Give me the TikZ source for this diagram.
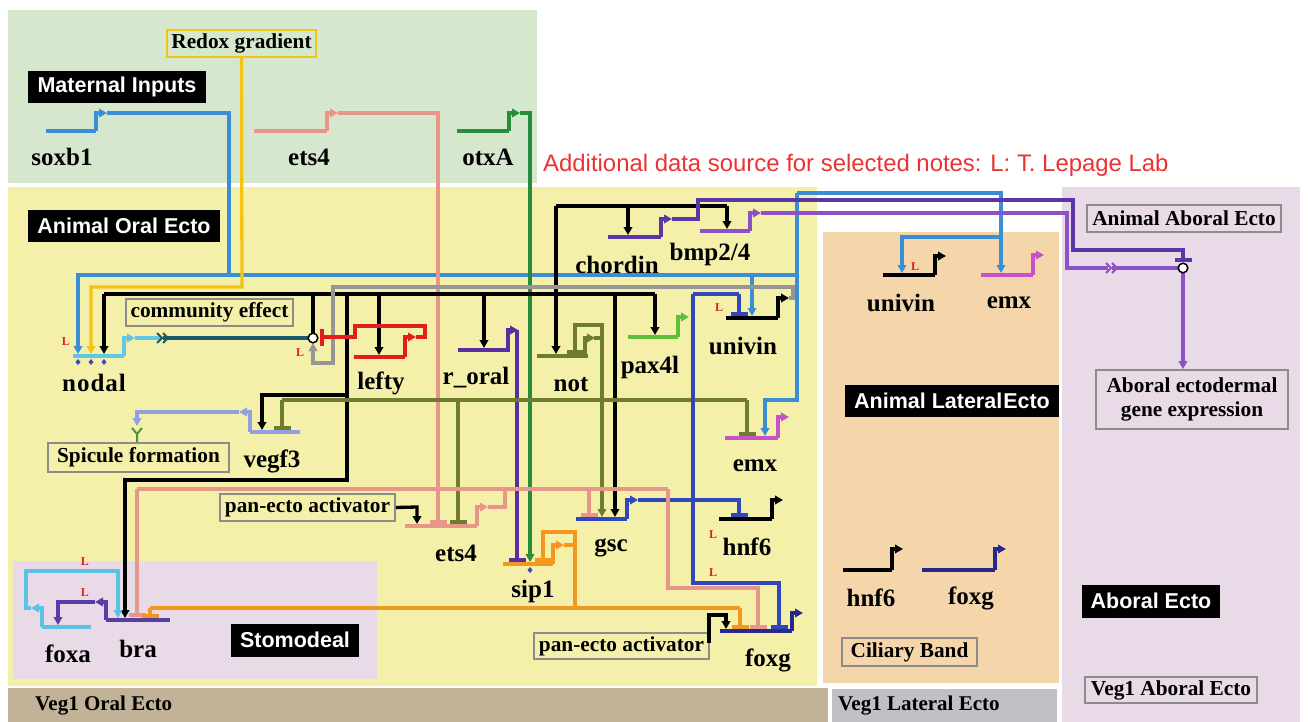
\documentclass[tikz,border=0pt]{standalone}
\usepackage{fontspec}
\setmainfont{Liberation Serif}
\setsansfont{Liberation Sans}
\usetikzlibrary{arrows.meta}
\definecolor{bgGreen}{RGB}{213,232,206}
\definecolor{bgYellow}{RGB}{244,240,170}
\definecolor{bgPeach}{RGB}{245,214,170}
\definecolor{bgPink}{RGB}{232,218,230}
\definecolor{bgTan}{RGB}{193,178,152}
\definecolor{bgGray}{RGB}{192,193,198}
\definecolor{boxGray}{RGB}{140,140,140}
\definecolor{cBlue}{RGB}{58,142,214}
\definecolor{cYellow}{RGB}{245,195,20}
\definecolor{cSalmon}{RGB}{232,150,138}
\definecolor{cGreen}{RGB}{40,140,60}
\definecolor{cCyan}{RGB}{95,200,230}
\definecolor{cTeal}{RGB}{25,90,105}
\definecolor{cRed}{RGB}{225,30,30}
\definecolor{cGray}{RGB}{150,150,150}
\definecolor{cPurple}{RGB}{90,45,160}
\definecolor{cDPurple}{RGB}{90,55,165}
\definecolor{cLPurple}{RGB}{140,80,200}
\definecolor{cOlive}{RGB}{110,125,45}
\definecolor{cPax}{RGB}{95,190,60}
\definecolor{cMagenta}{RGB}{200,80,200}
\definecolor{cLav}{RGB}{145,160,225}
\definecolor{cOrange}{RGB}{245,150,30}
\definecolor{cMBlue}{RGB}{50,70,190}
\definecolor{cNavy}{RGB}{40,40,140}
\definecolor{cCyanB}{RGB}{90,195,228}
\definecolor{cBra}{RGB}{90,60,165}
\definecolor{cDot}{RGB}{60,70,190}
\definecolor{cRedText}{RGB}{235,50,50}
\tikzset{
  ln/.style={line width=3.3pt},
  gl/.style={line width=4.6pt},
  act/.style={-{Triangle[length=8pt,width=8.5pt]}},
  rep/.style={-{Bar[width=17pt,line width=4pt]}},
  genelabel/.style={font=\fontsize{25}{25}\selectfont\bfseries,inner sep=0pt},
  blackbox/.style={fill=black,text=white,font=\sffamily\bfseries\fontsize{21.5}{21.5}\selectfont,inner sep=0pt},
  graybox/.style={draw=boxGray,line width=1.8pt,font=\fontsize{21.3}{24}\selectfont\bfseries,inner sep=0pt},
  plainlabel/.style={font=\fontsize{21}{21}\selectfont\bfseries,inner sep=0pt,anchor=west},
  lmark/.style={text=cRed,font=\fontsize{12}{12}\selectfont\bfseries,inner sep=0pt},
  junction/.style={draw=black,line width=1.5pt,fill=white}
}
\newcommand\genefwd[5]{%
  \draw[#1,gl] (#2,#4) -- (#3,#4);
  \draw[#1,ln,act] (#3,#4) -- (#3,#5) -- ++(11,0);
}
\newcommand\generev[5]{%
  \draw[#1,gl] (#2,#4) -- (#3,#4);
  \draw[#1,ln,act] (#2,#4) -- (#2,#5) -- ++(-11,0);
}
\begin{document}
\begin{tikzpicture}[x=1pt,y=-1pt]
\useasboundingbox (0,0) rectangle (1308,722);
\fill[white] (0,0) rectangle (1308,722);
% regions
\fill[bgGreen] (8,10) rectangle (537,183);
\fill[bgYellow] (8,187) rectangle (817,686);
\fill[bgPeach] (823,232) rectangle (1059,683);
\fill[bgPink] (1062,187) rectangle (1300,722);
\fill[bgPink] (13,561) rectangle (377,679);
\fill[bgTan] (8,688) rectangle (828,722);
\fill[bgGray] (832,689) rectangle (1057,722);

% region titles
\node[blackbox,minimum width=178pt,minimum height=32pt] (tMat) at (117,87) {Maternal Inputs};
\node[blackbox,minimum width=192pt,minimum height=32pt] (tOral) at (124,226) {Animal Oral Ecto};
\node[blackbox,minimum width=214pt,minimum height=32pt] (tLat) at (952,401) {Animal Lateral{\kern1pt}Ecto};
\node[blackbox,minimum width=128pt,minimum height=33pt] (tStom) at (295,640) {Stomodeal};
\node[blackbox,minimum width=138pt,minimum height=33pt] (tAbo) at (1151,601) {Aboral Ecto};
\node[graybox,minimum width=194pt,minimum height=27pt] (tAAE) at (1184,218.5) {Animal Aboral Ecto};
\node[graybox,minimum width=192pt,minimum height=59pt,align=center] (tAEG) at (1192,399.5) {Aboral ectodermal\\gene expression};
\node[graybox,minimum width=135pt,minimum height=28pt] (tCil) at (909.5,652) {Ciliary Band};
\node[graybox,minimum width=172pt,minimum height=26pt] (tVAE) at (1171,690) {Veg1 Aboral Ecto};
\node[graybox,minimum width=167pt,minimum height=27pt] (tCom) at (209.5,312.5) {community effect};
\node[graybox,minimum width=181pt,minimum height=29pt] (tSpi) at (138.5,457.5) {Spicule formation};
\node[graybox,minimum width=175pt,minimum height=27pt] (tPan1) at (307.5,507.5) {pan-ecto activator};
\node[graybox,minimum width=175pt,minimum height=26pt] (tPan2) at (621.5,646) {pan-ecto activator};
\node[graybox,draw=cYellow,minimum width=149pt,minimum height=27pt] (tRedox) at (241.5,43.5) {Redox gradient};
\node[plainlabel] (tVOE) at (35,706) {Veg1 Oral Ecto};
\node[plainlabel] (tVLE) at (838,706) {Veg1 Lateral Ecto};
\node[text=cRedText,font=\sffamily\fontsize{23.9}{24}\selectfont,inner sep=0pt,anchor=west] (tNote) at (543,165) {Additional data source for selected notes: L: T. Lepage Lab};

% ---------- connectors ----------
% soxb1 output (blue)
\draw[cBlue,ln] (107,113) -- (229,113) -- (229,275);
\draw[cBlue,ln,act] (797,275) -- (78,275) -- (78,354);
\draw[cBlue,ln,act] (752,275) -- (752,316);
\draw[cBlue,ln,act] (797,193) -- (797,400) -- (765,400) -- (765,436);
\draw[cBlue,ln,act] (797,193) -- (1001,193) -- (1001,273);
\draw[cBlue,ln,act] (1001,237) -- (902,237) -- (902,273);
% redox gradient (yellow)
\draw[cYellow,ln,act] (tRedox.south) -- (242,287) -- (91,287) -- (91,354);
% ets4 maternal (salmon)
\draw[cSalmon,ln,rep] (338,113) -- (438,113) -- (438,524);
% otxA (green)
\draw[cGreen,ln,act] (520,113) -- (530,113) -- (530,562);
% black network
\draw[black,ln] (104,294) -- (655,294);
\draw[black,ln,act] (104,294) -- (104,354);
\draw[black,ln] (313,294) -- (313,333.5);
\draw[black,ln,act] (347,294) -- (347,480) -- (125,480) -- (125,618);
\draw[black,ln,act] (347,395) -- (262,395) -- (262,430);
\draw[black,ln,act] (379,294) -- (379,355);
\draw[black,ln,act] (484,294) -- (484,348);
\draw[black,ln,act] (615,294) -- (615,517);
\draw[black,ln,act] (655,294) -- (655,335);
\draw[black,ln] (556,206) -- (727,206);
\draw[black,ln,act] (556,206) -- (556,354);
\draw[black,ln,act] (628,206) -- (628,235);
\draw[black,ln,act] (727,206) -- (727,229);
\draw[black,ln,act] (tPan1.east) -- (417,507) -- (417,524);
\draw[black,ln,act] (709,643) -- (709,615) -- (726,615) -- (726,629);
% univin (oral) output, gray
\draw[cGray,ln,act] (789,298) -- (793,298) -- (793,287) -- (333,287) -- (333,363) -- (313,363) -- (313,343);
% nodal output -> community effect
\draw[cCyan,ln] (135,338) -- (160,338);
\draw[cTeal,ln] (163,338) -- (309,338);
\draw[cTeal,line width=1.8pt] (157,333) -- (162,338) -- (157,343) (163,333) -- (168,338) -- (163,343);
% lefty output (red)
\draw[cRed,ln,rep] (416,337) -- (425,337) -- (425,326) -- (355,326) -- (355,337) -- (320,337);
% r_oral output (purple)
\draw[cPurple,ln,rep] (517,330) -- (517,562);
% not output (olive)
\draw[cOlive,ln] (594,338) -- (602,338);
\draw[cOlive,ln,rep] (602,338) -- (602,325) -- (575,325) -- (575,354);
\draw[cOlive,ln,act] (602,325) -- (602,517);
\draw[cOlive,ln] (282,400) -- (747,400);
\draw[cOlive,ln,rep] (282,400) -- (282,430);
\draw[cOlive,ln,rep] (458,400) -- (458,524);
\draw[cOlive,ln,rep] (747,400) -- (747,436);
% chordin output (dark purple)
\draw[cDPurple,ln,rep] (672,219) -- (698,219) -- (698,200) -- (1073,200) -- (1073,250) -- (1183,250) -- (1183,262);
% bmp2/4 output (light purple)
\draw[cLPurple,ln] (761,213) -- (1067,213) -- (1067,268) -- (1108,268);
\draw[cLPurple,line width=1.8pt] (1106,263) -- (1111,268) -- (1106,273) (1112,263) -- (1117,268) -- (1112,273);
\draw[cLPurple,ln] (1112,268) -- (1178.5,268);
\draw[cLPurple,ln,act] (1183,272.5) -- (tAEG.north -| 1183,0);
% gsc / dark-blue network
\draw[cMBlue,ln,rep] (638,500) -- (739,500) -- (739,517);
\draw[cMBlue,ln] (693,294) -- (739,294);
\draw[cMBlue,ln,rep] (739,294) -- (739,316);
\draw[cMBlue,ln,rep] (693,294) -- (693,583) -- (779,583) -- (779,629);
% vegf3 output
\draw[cLav,ln,act] (239,412) -- (137,412) -- (137,426);
\draw[cPax!80!black,line width=2pt] (132,428) -- (137,434) -- (142,428) (137,434) -- (tSpi.north -| 137,0);
% ets4 oral output (salmon)
\draw[cSalmon,ln] (488,507) -- (505,507) -- (505,489);
\draw[cSalmon,ln] (137,489) -- (668,489);
\draw[cSalmon,ln,rep] (137,489) -- (137,617);
\draw[cSalmon,ln,rep] (589,489) -- (589,517);
\draw[cSalmon,ln,rep] (668,489) -- (668,588) -- (758,588) -- (758,629);
% sip1 output (orange)
\draw[cOrange,ln] (564,545) -- (575,545);
\draw[cOrange,ln,rep] (575,545) -- (575,532) -- (543,532) -- (543,562);
\draw[cOrange,ln] (575,532) -- (575,608);
\draw[cOrange,ln] (150,608) -- (740,608);
\draw[cOrange,ln,rep] (150,608) -- (150,618);
\draw[cOrange,ln,rep] (740,608) -- (740,629);
% foxa output -> bra
\draw[cCyanB,ln,act] (31,608) -- (26,608) -- (26,571) -- (118,571) -- (118,618);
% bra output -> foxa
\draw[cBra,ln,act] (95,602) -- (58,602) -- (58,625);

% ---------- genes ----------
\genefwd{cBlue}{46}{96}{131}{113}
\genefwd{cSalmon}{254}{327}{131}{113}
\genefwd{cGreen}{457}{509}{131}{113}
\genefwd{cCyan}{73}{124}{356}{338}
\genefwd{cRed}{354}{405}{357}{337}
\draw[cPurple,gl] (458,350) -- (510,350);
\draw[cPurple,ln,act] (508,350) -- (508,330) -- (518,330);
\draw[cOlive,gl] (537,356) -- (588,356);
\draw[cOlive,ln,act] (585,356) -- (585,338) -- (595,338);
\genefwd{cPax}{628}{678}{337}{317}
\genefwd{cDPurple}{608}{661}{237}{219}
\genefwd{cLPurple}{700}{750}{231}{213}
\genefwd{black}{726}{778}{318}{298}
\genefwd{cMagenta}{725}{778}{438}{417}
\generev{cLav}{250}{300}{432}{412}
\genefwd{cSalmon}{405}{477}{526}{507}
\genefwd{cOrange}{503}{553}{564}{545}
\genefwd{cMBlue}{576}{627}{519}{500}
\genefwd{black}{719}{772}{519}{500}
\genefwd{cNavy}{720}{792}{631}{613}
\generev{cCyanB}{42}{91}{627}{608}
\generev{cBra}{106}{170}{620}{602}
\genefwd{black}{883}{935}{275}{256}
\genefwd{cMagenta}{981}{1033}{275}{255}
\genefwd{black}{843}{892}{570}{549}
\draw[cNavy,gl] (922,570) -- (995,570);
\draw[cNavy,ln,act] (995,570) -- (995,549) -- (1006,549);

% junctions and dots
\draw[junction] (313,338) circle (4.8);
\draw[junction] (1183,268) circle (4.8);
\foreach \dx in {78,91,104} \fill[cDot] (\dx,359) -- (\dx+2.5,362) -- (\dx,365) -- (\dx-2.5,362) -- cycle;
\fill[cDot] (530,567) -- (532.5,570) -- (530,573) -- (527.5,570) -- cycle;

% L marks
\node[lmark] (L1) at (66,342) {L};
\node[lmark] (L2) at (300,353) {L};
\node[lmark] (L3) at (719,308) {L};
\node[lmark] (L4) at (915,267) {L};
\node[lmark] (L5) at (713,535) {L};
\node[lmark] (L6) at (713,573) {L};
\node[lmark] (L7) at (85,562) {L};
\node[lmark] (L8) at (85,593) {L};

% gene labels
\node[genelabel] (n-soxb1) at (62,157) {soxb1};
\node[genelabel] (n-ets4m) at (309,157) {ets4};
\node[genelabel] (n-otxA) at (488,157) {otxA};
\node[genelabel] (n-nodal) at (94,383) {n\kern1pt o\kern1pt d\kern1pt a\kern1pt l};
\node[genelabel] (n-lefty) at (381,383) {lefty};
\node[genelabel] (n-roral) at (476,378) {r\_oral};
\node[genelabel] (n-not) at (571,385) {not};
\node[genelabel] (n-pax4l) at (650,367) {pax4l};
\node[genelabel] (n-univin) at (743,346) {univin};
\node[genelabel] (n-chordin) at (617,265) {chordin};
\node[genelabel] (n-bmp) at (710,254) {bmp2/4};
\node[genelabel] (n-vegf3) at (272,461) {vegf3};
\node[genelabel] (n-emx) at (755,466) {emx};
\node[genelabel] (n-ets4) at (456,553) {ets4};
\node[genelabel] (n-sip1) at (533,591) {sip1};
\node[genelabel] (n-gsc) at (611,548) {gsc};
\node[genelabel] (n-hnf6) at (747,547) {hnf6};
\node[genelabel] (n-foxg) at (768,660) {foxg};
\node[genelabel] (n-foxa) at (68,654) {foxa};
\node[genelabel] (n-bra) at (138,649) {bra};
\node[genelabel] (n-univinR) at (901,303) {univin};
\node[genelabel] (n-emxR) at (1009,303) {emx};
\node[genelabel] (n-hnf6R) at (871,598) {hnf6};
\node[genelabel] (n-foxgR) at (971,598) {foxg};
\end{tikzpicture}
\end{document}
